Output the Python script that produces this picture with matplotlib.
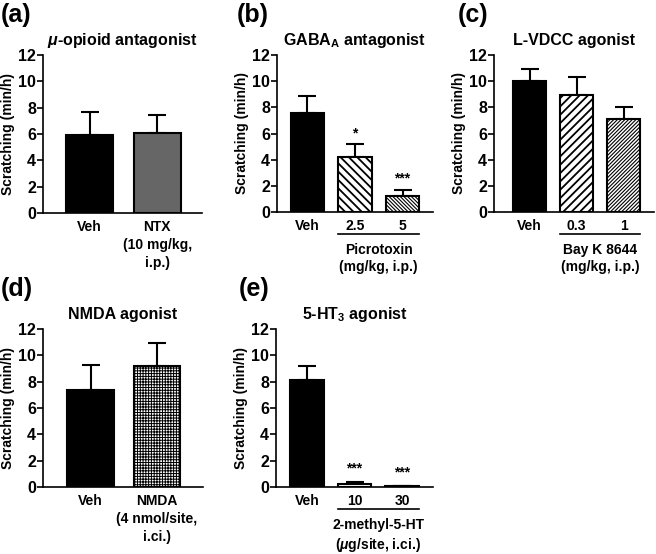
import matplotlib
matplotlib.use("Agg")
import matplotlib.pyplot as plt
import matplotlib.transforms as mtransforms

plt.rcParams['font.family'] = ['Liberation Sans', 'DejaVu Sans']
plt.rcParams['font.weight'] = 'bold'
plt.rcParams['axes.titleweight'] = 'bold'
plt.rcParams['axes.labelweight'] = 'bold'
plt.rcParams['axes.linewidth'] = 1.2
plt.rcParams['mathtext.fontset'] = 'custom'
plt.rcParams['mathtext.rm'] = 'Liberation Sans:bold'
plt.rcParams['mathtext.bf'] = 'Liberation Sans:bold'
plt.rcParams['mathtext.it'] = 'Liberation Sans:italic:bold'

# data
a_labels = ['Veh', 'NTX\n(10 mg/kg,\ni.p.)']
a_means = [5.9, 6.1]
a_sem = [1.8, 1.35]

b_labels = ['Veh', '2.5', '5']
b_means = [7.6, 4.2, 1.2]
b_sem = [1.25, 1.0, 0.5]
b_stars = ['', '*', '***']

c_labels = ['Veh', '0.3', '1']
c_means = [10.0, 8.95, 7.1]
c_sem = [0.95, 1.35, 0.9]

d_labels = ['Veh', 'NMDA\n(4 nmol/site,\ni.ci.)']
d_means = [7.4, 9.2]
d_sem = [1.9, 1.7]

e_labels = ['Veh', '10', '30']
e_means = [8.1, 0.2, 0.05]
e_sem = [1.1, 0.15, 0.05]
e_stars = ['', '***', '***']

yticks = [0, 2, 4, 6, 8, 10, 12]

W, H = 656, 554
fig = plt.figure(figsize=(W / 100, H / 100), dpi=100)
all_axes = []


def px_axes(left, right, top, bottom):
    ax = fig.add_axes([left / W, 1 - bottom / H, (right - left) / W, (bottom - top) / H])
    all_axes.append(ax)
    return ax


def panel(ax, labels, means, sem, colors, hatches, hlw, width, xlim, title, letter, letter_x):
    x = list(range(len(means)))
    bars = ax.bar(x, means, width=width, color=colors, edgecolor='black', linewidth=1.5, zorder=2)
    for b, h, lw in zip(bars, hatches, hlw):
        if h:
            b.set_hatch(h)
            try:
                b.set_hatch_linewidth(lw)
            except AttributeError:
                pass
    ax.errorbar(x, means, yerr=[[0] * len(sem), sem], fmt='none', ecolor='black',
                elinewidth=1.5, capsize=6.5, capthick=1.5, zorder=1)
    ax.set_ylim(0, 12)
    ax.set_xlim(*xlim)
    ax.tick_params(axis='y', width=1.2, length=4, pad=1, labelsize=11.5)
    ax.tick_params(axis='x', length=0, pad=5, labelsize=10)
    ax.set_yticks(yticks)
    ax.set_xticks(x, labels=labels, linespacing=1.35)
    ax.spines['top'].set_visible(False)
    ax.spines['right'].set_visible(False)
    ax.set_ylabel('Scratching (min/h)', fontsize=10, labelpad=2)
    ax.set_title(title, fontsize=11.5, pad=7)
    fig.text(letter_x / W, ax.get_position().y1 + 40 / H, letter, fontsize=18, fontweight='bold',
             va='center', ha='left')


def bracket(ax, x0, x1, text):
    tr = mtransforms.blended_transform_factory(ax.transData, ax.transAxes)
    ax.plot([x0, x1], [-0.14, -0.14], color='black', lw=1.2, transform=tr, clip_on=False)
    ax.text((x0 + x1) / 2, -0.195, text, transform=tr, ha='center', va='top', fontsize=10,
            linespacing=1.3)


def stars(ax, means, sem, marks, off):
    for i, (m, s, t) in enumerate(zip(means, sem, marks)):
        if t:
            ax.text(i, m + s + off, t, ha='center', va='bottom', fontsize=10)


ax_a = px_axes(43, 202, 55, 213)
panel(ax_a, a_labels, a_means, a_sem, ['black', '#666666'], [None, None], [1, 1], 0.69,
      (-0.69, 1.66), r'$\mu$-opioid antagonist', '(a)', 1)

ax_b = px_axes(277, 433, 55, 212)
panel(ax_b, b_labels, b_means, b_sem, ['black', 'white', 'white'], [None, '\\\\\\\\', '\\\\\\\\\\\\\\\\\\'],
      [1, 1.3, 0.8], 0.7, (-0.64, 2.64), r'GABA$_\mathbf{A}$ antagonist', '(b)', 237)
stars(ax_b, b_means, b_sem, b_stars, 0.3)
bracket(ax_b, 0.65, 2.35, 'Picrotoxin\n(mg/kg, i.p.)')

ax_c = px_axes(494, 654, 55, 212)
panel(ax_c, c_labels, c_means, c_sem, ['black', 'white', 'white'], [None, '////', '/////////'],
      [1, 1.3, 0.8], 0.7, (-0.76, 2.65), 'L-VDCC agonist', '(c)', 458)
bracket(ax_c, 0.65, 2.35, 'Bay K 8644\n(mg/kg, i.p.)')

ax_d = px_axes(43, 203, 329, 487)
panel(ax_d, d_labels, d_means, d_sem, ['black', 'white'], [None, '++++++'], [1, 0.7], 0.7,
      (-0.72, 1.7), 'NMDA agonist', '(d)', 1)

ax_e = px_axes(276, 433, 329, 487)
panel(ax_e, e_labels, e_means, e_sem, ['black', 'white', 'white'], [None, None, None],
      [1, 1, 1], 0.7, (-0.65, 2.65), r'5-HT$_\mathbf{3}$ agonist', '(e)', 239)
stars(ax_e, e_means, e_sem, e_stars, 0.5)
bracket(ax_e, 0.65, 2.35, '2-methyl-5-HT\n(' + r'$\mu$' + 'g/site, i.ci.)')

# make sure tick labels end up bold after the ticks are built
fig.canvas.draw()
for ax in all_axes:
    for lab in ax.get_yticklabels() + ax.get_xticklabels():
        lab.set_fontweight('bold')

fig.savefig('out.png', dpi=100)
